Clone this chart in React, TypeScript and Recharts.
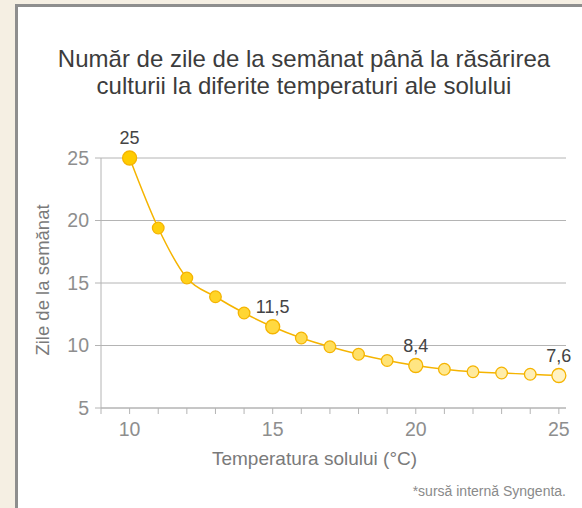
import { LineChart, Line, XAxis, YAxis, CartesianGrid, LabelList, Label } from "recharts";

const FONT = '"Liberation Sans", Arial, Helvetica, sans-serif';

// soil temperature (°C) and days from sowing to emergence
const temperatures = [10, 11, 12, 13, 14, 15, 16, 17, 18, 19, 20, 21, 22, 23, 24, 25];
const days = [25, 19.4, 15.4, 13.9, 12.6, 11.5, 10.6, 9.9, 9.3, 8.8, 8.4, 8.1, 7.9, 7.8, 7.7, 7.6];
const pointLabels = ["25", "", "", "", "", "11,5", "", "", "", "", "8,4", "", "", "", "", "7,6"];

const xTicks = [9, 10, 11, 12, 13, 14, 15, 16, 17, 18, 19, 20, 21, 22, 23, 24, 25];
const yTicks = [5, 10, 15, 20, 25];

const data = temperatures.map((t, i) => ({ t, days: days[i], label: pointLabels[i] }));

// dots go from deep gold to pale yellow
const mix = (a: number, b: number, k: number) => Math.round(a + (b - a) * k);
const dotFill = (i: number) => {
    const k = i / (temperatures.length - 1);
    return `rgb(255,${mix(204, 242, k)},${mix(0, 196, k)})`;
};

const Dot = (props: any) => {
    const { cx, cy, index, payload } = props;
    if (cx == null || cy == null) return null;
    const big = payload.label !== "";
    return (
        <circle
            key={index}
            cx={cx}
            cy={cy}
            r={big ? 7 : 5.8}
            fill={dotFill(index)}
            stroke="#F5B400"
            strokeWidth={1.3}
        />
    );
};

const tickStyle = { fill: "#8e8e8e", fontSize: 19.5, fontFamily: FONT };

export default function App() {
    return (
        <div
            style={{
                position: "absolute",
                left: 0,
                top: 0,
                width: 582,
                height: 508,
                overflow: "hidden",
                background: "#f5efe3",
            }}
        >
            <div
                style={{
                    position: "absolute",
                    left: 15,
                    top: 4,
                    width: 620,
                    height: 560,
                    background: "#ffffff",
                    borderLeft: "3px solid #8e8e8e",
                    borderTop: "3px solid #8e8e8e",
                }}
            />
            <div
                style={{
                    position: "absolute",
                    left: 0,
                    top: 45,
                    width: 608,
                    textAlign: "center",
                    fontFamily: FONT,
                    fontSize: 24,
                    lineHeight: "27px",
                    color: "#3c3c3c",
                }}
            >
                Număr de zile de la semănat până la răsărirea
                <br />
                culturii la diferite temperaturi ale solului
            </div>
            <div style={{ position: "absolute", left: 0, top: 0 }}>
                <LineChart
                    width={582}
                    height={508}
                    data={data}
                    margin={{ top: 158, right: 16, bottom: 40, left: 41 }}
                >
                    <CartesianGrid vertical={false} stroke="#b4b4b4" strokeWidth={1} />
                    <XAxis
                        dataKey="t"
                        type="number"
                        domain={[9, 25.25]}
                        ticks={xTicks}
                        interval={0}
                        tickFormatter={(v: number) => (v % 5 === 0 ? String(v) : "")}
                        height={60}
                        stroke="#b4b4b4"
                        tickSize={6}
                        tickMargin={8}
                        tick={tickStyle}
                    >
                        <Label
                            value="Temperatura solului (°C)"
                            content={(p: any) => {
                                const vb = p.viewBox;
                                return (
                                    <text
                                        x={vb.x + vb.width / 2 - 19}
                                        y={vb.y + 57}
                                        textAnchor="middle"
                                        fill="#7a7a7a"
                                        fontSize={19}
                                        fontFamily={FONT}
                                    >
                                        Temperatura solului (°C)
                                    </text>
                                );
                            }}
                        />
                    </XAxis>
                    <YAxis
                        dataKey="days"
                        type="number"
                        domain={[5, 25]}
                        ticks={yTicks}
                        width={60}
                        stroke="#b4b4b4"
                        tickSize={6}
                        tickMargin={6}
                        tick={tickStyle}
                    >
                        <Label
                            value="Zile de la semănat"
                            content={(p: any) => {
                                const vb = p.viewBox;
                                const cx = vb.x + 8;
                                const cy = vb.y + vb.height / 2 - 3;
                                return (
                                    <text
                                        x={cx}
                                        y={cy}
                                        transform={`rotate(-90 ${cx} ${cy})`}
                                        textAnchor="middle"
                                        fill="#7a7a7a"
                                        fontSize={18.5}
                                        fontFamily={FONT}
                                    >
                                        Zile de la semănat
                                    </text>
                                );
                            }}
                        />
                    </YAxis>
                    <Line
                        type="monotone"
                        dataKey="days"
                        stroke="#F5B400"
                        strokeWidth={1.5}
                        dot={<Dot />}
                        activeDot={false}
                        isAnimationActive={false}
                    >
                        <LabelList
                            dataKey="label"
                            position="top"
                            offset={14}
                            fill="#444444"
                            fontSize={18}
                            fontFamily={FONT}
                        />
                    </Line>
                </LineChart>
            </div>
            <div
                style={{
                    position: "absolute",
                    right: 16,
                    top: 483,
                    fontFamily: FONT,
                    fontSize: 14,
                    color: "#8a8a8a",
                }}
            >
                *sursă internă Syngenta.
            </div>
        </div>
    );
}
